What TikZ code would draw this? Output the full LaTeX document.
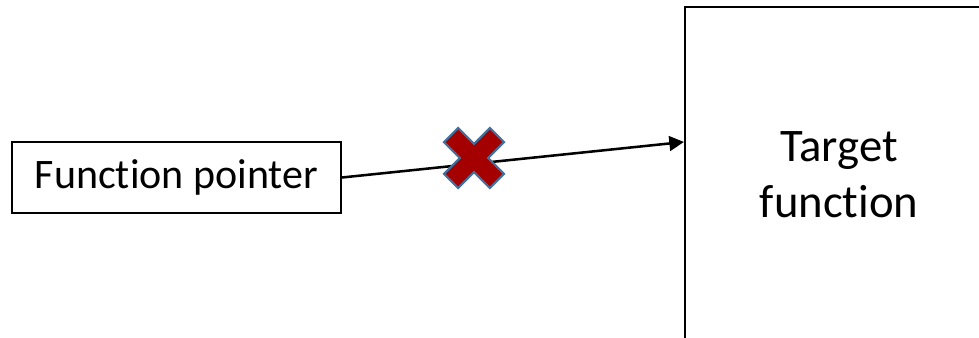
\documentclass[tikz,border=0pt]{standalone}
\usepackage{fontspec}
\setmainfont{Carlito}[Ligatures=NoCommon]
\usetikzlibrary{arrows.meta,positioning}
\definecolor{crossred}{RGB}{165,0,0}
\definecolor{crossblue}{RGB}{65,113,156}
\tikzset{
  fbox/.style  = {draw=black,line width=1.5pt,fill=white,inner sep=0pt},
  arrow/.style = {-{Triangle[length=11pt,width=11pt]},line width=1.9pt},
  xmark/.style = {fill=crossred,draw=crossblue,line width=1.6pt,line join=miter},
}

\begin{document}
\begin{tikzpicture}[x=0.75pt,y=-0.75pt]
  \path[use as bounding box,clip] (0,0) rectangle (979,338);
  \node[fbox,minimum width=246.75pt,minimum height=53.25pt,
        font=\fontsize{31.5}{36}\selectfont] (fp) at (176.5,177.5) {Function pointer};
  \node[fbox,minimum width=231pt,minimum height=252pt,align=center,
        font=\fontsize{35}{42}\selectfont,right=256.5pt of fp,yshift=1.9pt]
        (tf) {Target\\function};
  \coordinate (hit) at ([yshift=24.75pt]tf.west);
  \draw[arrow] (fp.east) -- (hit);
  % the "blocked" cross on top of the call
  \coordinate (blk) at (474,158);
  \begin{scope}[shift={(blk)},rotate=45]
    \draw[xmark] (10,10) -- (32.5,10) -- (32.5,-10) -- (10,-10) -- (10,-32.5)
      -- (-10,-32.5) -- (-10,-10) -- (-32.5,-10) -- (-32.5,10) -- (-10,10)
      -- (-10,32.5) -- (10,32.5) -- cycle;
  \end{scope}
\end{tikzpicture}
\end{document}
